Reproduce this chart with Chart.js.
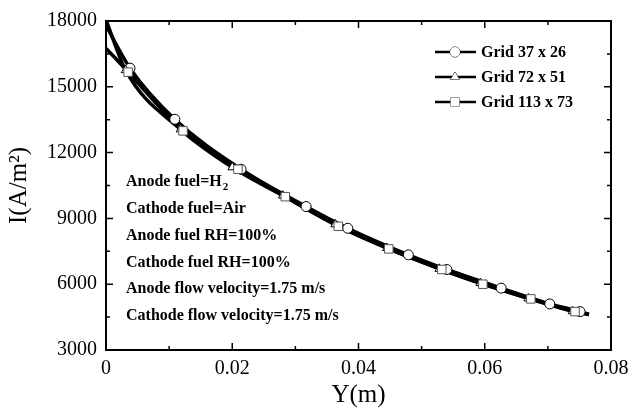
<!DOCTYPE html>
<html>
<head>
<meta charset="utf-8">
<script src="https://cdn.jsdelivr.net/npm/chart.js@4.4.0/dist/chart.umd.min.js"></script>
<style>
  body { margin: 0; background: #fff; }
  #wrap { width: 639px; height: 412px; }
</style>
</head>
<body>
<div id="wrap"><canvas id="chart" width="639" height="412"></canvas></div>
<script>
// Marker positions (Y in m, I in A/m2)
const circleY = [0.0038, 0.0109, 0.0214, 0.0317, 0.0383, 0.0479, 0.0540, 0.0626, 0.0703, 0.0751];
const circleI = [15850, 13520, 11240, 9540, 8550, 7340, 6670, 5820, 5100, 4750];
const triangleY = [0.0031, 0.0118, 0.0200, 0.0280, 0.0363, 0.0445, 0.0528, 0.0593, 0.0669, 0.0739];
const triangleI = [15760, 13060, 11330, 10040, 8730, 7650, 6700, 6050, 5350, 4770];
const squareY = [0.0035, 0.0122, 0.0209, 0.0284, 0.0368, 0.0448, 0.0532, 0.0597, 0.0673, 0.0743];
const squareI = [15670, 12990, 11240, 9990, 8640, 7610, 6670, 6000, 5330, 4750];

// where each curve starts at the inlet and where they all end
const circleStartY = [0];
const circleStartI = [17800];
const triangleStartY = [0];
const triangleStartI = [18050];
const squareStartY = [0, 0.0015];
const squareStartI = [16750, 16300];
const endY = [0.0765];
const endI = [4620];

const legendLabels = ['Grid 37 x 26', 'Grid 72 x 51', 'Grid 113 x 73'];
const notes = ['Anode fuel=H|2', 'Cathode fuel=Air', 'Anode fuel RH=100%',
               'Cathode fuel RH=100%', 'Anode flow velocity=1.75 m/s',
               'Cathode flow velocity=1.75 m/s'];

const xTicks = [0, 0.02, 0.04, 0.06, 0.08];
const yTicks = [3000, 6000, 9000, 12000, 15000, 18000];

function pts(xs, ys) {
    return xs.map((x, i) => ({ x: x, y: ys[i] }));
}

function curve(startX, startY, xs, ys) {
    return pts(startX.concat(xs, endY), startY.concat(ys, endI));
}

const serif = "'Liberation Serif', 'Times New Roman', serif";

function markerSet(data, style, radius, border) {
    return {
        data: data,
        showLine: false,
        pointStyle: style,
        pointRadius: radius,
        pointBackgroundColor: '#fff',
        pointBorderColor: border,
        pointBorderWidth: 1,
        pointHoverRadius: radius
    };
}

function lineSet(data) {
    return {
        data: data,
        borderColor: '#000',
        borderWidth: 3.5,
        pointRadius: 0,
        cubicInterpolationMode: 'monotone',
        fill: false
    };
}

// Inward ticks, frame, legend and condition notes
const decorations = {
    id: 'decorations',
    afterDraw(chart) {
        const ctx = chart.ctx;
        const a = chart.chartArea;
        const xs = chart.scales.x, ys = chart.scales.y;
        ctx.save();
        ctx.strokeStyle = '#000';
        ctx.lineWidth = 1.5;
        ctx.beginPath();
        for (let i = 0; i <= 8; i++) {
            const px = xs.getPixelForValue(i * 0.01);
            const len = i % 2 === 0 ? 7 : 4;
            ctx.moveTo(px, a.bottom); ctx.lineTo(px, a.bottom - len);
            ctx.moveTo(px, a.top); ctx.lineTo(px, a.top + len);
        }
        for (let v = 3000; v <= 18000; v += 1500) {
            const py = ys.getPixelForValue(v);
            const len = v % 3000 === 0 ? 7 : 4;
            ctx.moveTo(a.left, py); ctx.lineTo(a.left + len, py);
            ctx.moveTo(a.right, py); ctx.lineTo(a.right - len, py);
        }
        ctx.stroke();
        ctx.lineWidth = 2;
        ctx.strokeRect(a.left, a.top, a.right - a.left, a.bottom - a.top);

        // legend
        ctx.textBaseline = 'middle';
        const styles = ['circle', 'triangle', 'rect'];
        const borders = ['#000', '#000', '#555'];
        const radii = [5, 5, 6];
        legendLabels.forEach((lab, i) => {
            const y = 52 + i * 25;
            ctx.lineWidth = 2.5;
            ctx.strokeStyle = '#000';
            ctx.beginPath();
            ctx.moveTo(435, y); ctx.lineTo(476, y);
            ctx.stroke();
            ctx.fillStyle = '#fff';
            ctx.strokeStyle = borders[i];
            ctx.lineWidth = 1;
            Chart.helpers.drawPoint(ctx, { pointStyle: styles[i], radius: radii[i], borderWidth: 1 }, 455, y);
            ctx.fill();
            ctx.fillStyle = '#000';
            ctx.font = 'bold 16px ' + serif;
            ctx.fillText(lab, 481, y + 1);
        });

        // notes
        notes.forEach((t, i) => {
            const y = 182 + i * 26.8;
            const parts = t.split('|');
            ctx.font = 'bold 16px ' + serif;
            ctx.fillText(parts[0], 126, y);
            if (parts[1]) {
                const w = ctx.measureText(parts[0]).width;
                ctx.font = 'bold 11px ' + serif;
                ctx.fillText(parts[1], 126 + w + 1, y + 5);
            }
        });
        ctx.restore();
    }
};

const ctx = document.getElementById('chart').getContext('2d');
new Chart(ctx, {
    type: 'line',
    data: {
        datasets: [
            markerSet(pts(squareY, squareI), 'rect', 6, '#555'),
            markerSet(pts(triangleY, triangleI), 'triangle', 5, '#000'),
            markerSet(pts(circleY, circleI), 'circle', 5, '#000'),
            lineSet(curve(squareStartY, squareStartI, squareY, squareI)),
            lineSet(curve(triangleStartY, triangleStartI, triangleY, triangleI)),
            lineSet(curve(circleStartY, circleStartI, circleY, circleI))
        ]
    },
    options: {
        responsive: false,
        animation: false,
        layout: { padding: { top: 14, right: 28, left: 0, bottom: 0 } },
        plugins: { legend: { display: false }, tooltip: { enabled: false } },
        scales: {
            x: {
                type: 'linear',
                min: 0, max: 0.08,
                afterFit: s => { s.height = 62; },
                afterBuildTicks: s => { s.ticks = xTicks.map(v => ({ value: v })); },
                grid: { display: false, drawTicks: false },
                border: { display: false },
                ticks: {
                    padding: 7,
                    color: '#000',
                    font: { family: serif, size: 20 },
                    callback: v => v === 0 ? '0' : v.toFixed(2)
                },
                title: {
                    display: true,
                    text: 'Y(m)',
                    color: '#000',
                    font: { family: serif, size: 25 },
                    padding: { top: 2, bottom: 2 }
                }
            },
            y: {
                type: 'linear',
                min: 3000, max: 18000,
                afterFit: s => { s.width = 106; },
                afterBuildTicks: s => { s.ticks = yTicks.map(v => ({ value: v })); },
                grid: { display: false, drawTicks: false },
                border: { display: false },
                ticks: {
                    padding: 9,
                    color: '#000',
                    font: { family: serif, size: 20 },
                    callback: v => String(v)
                },
                title: {
                    display: true,
                    text: 'I(A/m²)',
                    color: '#000',
                    font: { family: serif, size: 25 },
                    padding: { top: 4, bottom: 0 }
                }
            }
        }
    },
    plugins: [decorations]
});
</script>
</body>
</html>
